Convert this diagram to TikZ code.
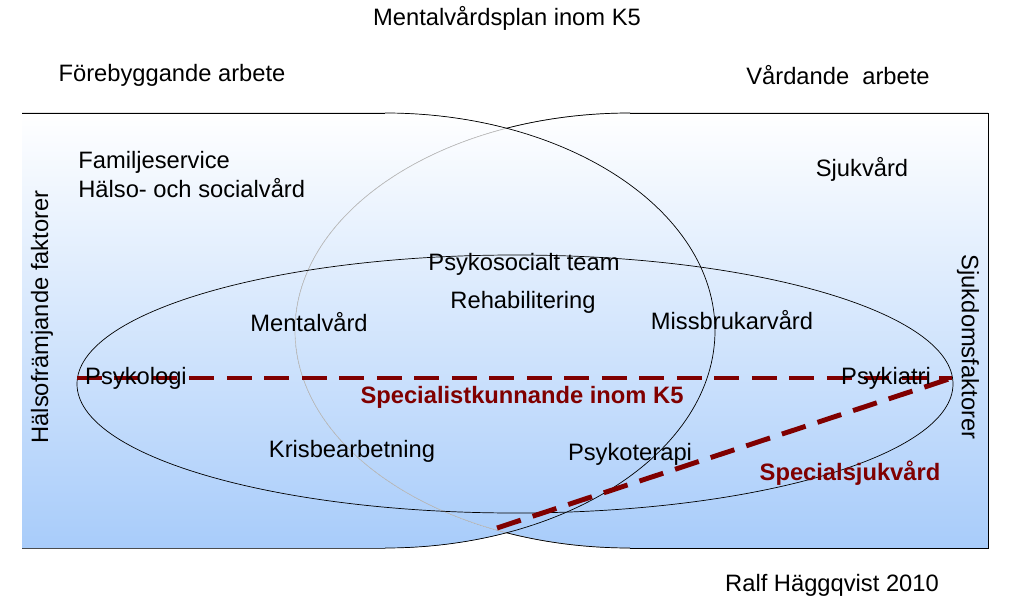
\documentclass[tikz,border=0pt]{standalone}
\usepackage{fontspec}
\setmainfont{Liberation Sans}
\definecolor{darkred}{RGB}{128,0,0}
\definecolor{paleblue}{RGB}{168,204,250}
\tikzset{
    lbl/.style={inner sep=0, font=\fontsize{13.5}{15}\selectfont},
    redlbl/.style={lbl, text=darkred, font=\fontsize{13.5}{15}\selectfont\bfseries},
    reddash/.style={draw=darkred, line width=2.8pt, dash pattern=on .5cm off .25cm},
    shadearea/.style={top color=white, bottom color=paleblue}
}
\begin{document}
\begin{tikzpicture}[x=0.02cm,y=-0.02cm]
\useasboundingbox (0,0) rectangle (1017,601);
%shaded area
\fill[shadearea] (22,113) -- (385,113) arc (-90:90:330 and 217.5) -- (22,548) -- cycle;
\fill[shadearea] (630,548) arc (90:270:335 and 217.5) -- (988,113) -- (988,548) -- cycle;
\draw[black!25] (630,548) arc (90:270:335 and 217.5);
\begin{scope}[even odd rule]
    \clip (0,0) rectangle (1017,601) (385,330.5) ellipse (330 and 217.5);
    \draw (630,548) arc (90:270:335 and 217.5);
\end{scope}
\draw (385,113) arc (-90:90:330 and 217.5);
\draw (22,113) -- (385,113) (630,113) -- (988,113) -- (988,548) -- (630,548)
    (385,548) -- (22,548) -- cycle;
\draw (515,384) ellipse (438 and 129);
%dashed lines
\coordinate (psl) at (77,378);
\coordinate (psr) at (952,378);
\coordinate (spb) at (497,528);
\draw[reddash] (psl) -- (psr);
\draw[reddash] (spb) -- (psr);
%labels
\node[lbl] (title) at (507,18) {Mentalvårdsplan inom K5};
\node[lbl] (foreb) at (172,75) {Förebyggande arbete};
\node[lbl] (vard) at (838,75) {Vårdande\ \ arbete};
\node[lbl, anchor=west] (famserv) at (78,162) {Familjeservice};
\node[lbl, anchor=west] (halso) at (78,188) {Hälso- och socialvård};
\node[lbl] (sjukv) at (862,169) {Sjukvård};
\node[lbl, rotate=90] (halsofr) at (42,317) {Hälsofrämjande faktorer};
\node[lbl, rotate=-90] (sjukd) at (968,347) {Sjukdomsfaktorer};
\node[lbl] (psyteam) at (524,264) {Psykosocialt team};
\node[lbl] (rehab) at (523,302) {Rehabilitering};
\node[lbl] (mental) at (309,322) {Mentalvård};
\node[lbl] (missbr) at (732,320) {Missbrukarvård};
\node[lbl] (psykol) at (136,378) {Psykologi};
\node[lbl] (psykia) at (886,378) {Psykiatri};
\node[redlbl] (spec) at (522,397) {Specialistkunnande inom K5};
\node[lbl] (kris) at (352,451) {Krisbearbetning};
\node[lbl] (psyter) at (630,454) {Psykoterapi};
\node[redlbl] (specsj) at (850,473) {Specialsjukvård};
\node[lbl] (author) at (832,585) {Ralf Häggqvist 2010};
\end{tikzpicture}
\end{document}
